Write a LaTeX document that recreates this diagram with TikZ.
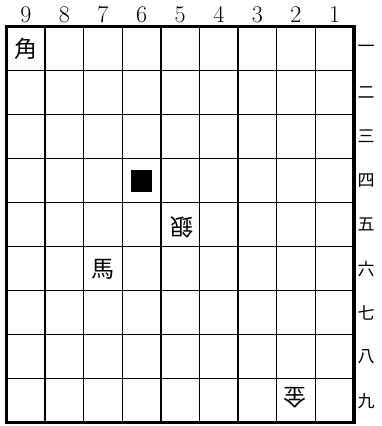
\documentclass[tikz,border=0pt]{standalone}
\usepackage{fontspec}
\newfontfamily\jp{Noto Sans CJK JP}
\begin{document}
\begin{tikzpicture}[x=1pt,y=-1pt,
  piece/.style={font=\jp\fontsize{23}{23}\selectfont, inner sep=0pt},
  gote/.style={piece, rotate=180},
  collab/.style={font=\fontsize{24}{24}\selectfont, inner sep=0pt},
  rowlab/.style={font=\jp\fontsize{17}{17}\selectfont, inner sep=0pt},
  thin/.style={line width=1.3pt},
  thick/.style={line width=3.2pt}]
\useasboundingbox (0,0) rectangle (382,426);
\def\L{6.5}\def\T{26.7}\def\cw{38.6}\def\ch{44}
% grid
\foreach \i in {1,...,8}{
  \draw[thin] ({\L+\cw*\i},\T) -- ({\L+\cw*\i},{\T+9*\ch});
  \draw[thin] (\L,{\T+\ch*\i}) -- ({\L+9*\cw},{\T+\ch*\i});
}
\draw[thick] (\L,\T) rectangle ({\L+9*\cw},{\T+9*\ch});
% column labels
\foreach \n [count=\i from 0] in {9,8,7,6,5,4,3,2,1}{
  \node[collab] (c\n) at ({\L+\cw*(\i+0.5)},14.5) {\n};
}
% row labels
\foreach \k [count=\j from 0] in {一,二,三,四,五,六,七,八,九}{
  \node[rowlab] (r\j) at (366,{\T+\ch*(\j+0.5)}) {\k};
}
% pieces
\node[piece] (p91) at ({\L+\cw*0.5},{\T+\ch*0.5+0.5}) {角};
\node[piece] (p76) at ({\L+\cw*2.5},{\T+\ch*5.5+1}) {馬};
\node[fill=black, minimum width=21pt, minimum height=22pt, inner sep=0pt] (sq64) at ({\L+\cw*3.5},{\T+\ch*3.5}) {};
\node[gote] (p55) at ({\L+\cw*4.5+1.5},{\T+\ch*4.5+2.5}) {銀};
\node[gote] (p29) at ({\L+\cw*7.5-1},{\T+\ch*8.5-3}) {金};
\end{tikzpicture}
\end{document}
